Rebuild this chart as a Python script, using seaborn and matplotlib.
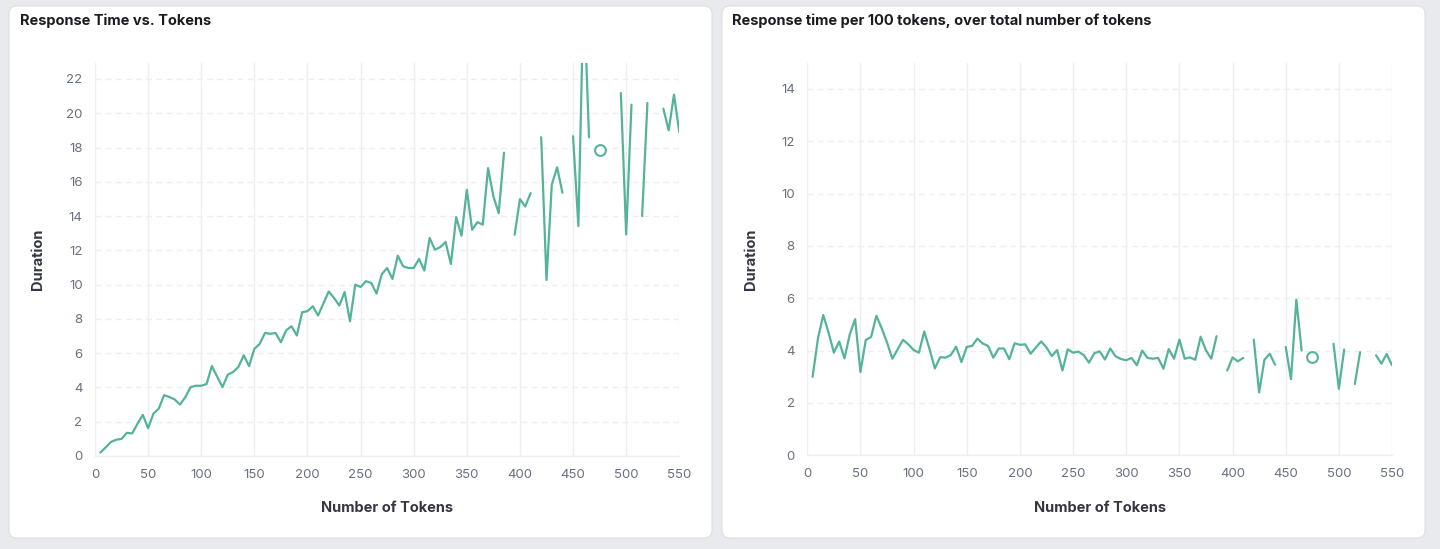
import numpy as np
import pandas as pd
import matplotlib
matplotlib.use("Agg")
import matplotlib.pyplot as plt
import seaborn as sns
from matplotlib.patches import FancyBboxPatch

nan = np.nan

tokens = [5, 10, 15, 20, 25, 30, 35, 40, 45, 50,
          55, 60, 65, 70, 75, 80, 85, 90, 95, 100,
          105, 110, 115, 120, 125, 130, 135, 140, 145, 150,
          155, 160, 165, 170, 175, 180, 185, 190, 195, 200,
          205, 210, 215, 220, 225, 230, 235, 240, 245, 250,
          255, 260, 265, 270, 275, 280, 285, 290, 295, 300,
          305, 310, 315, 320, 325, 330, 335, 340, 345, 350,
          355, 360, 365, 370, 375, 380, 385, 390, 395, 400,
          405, 410, 415, 420, 425, 430, 435, 440, 445, 450,
          455, 460, 465, 470, 475, 480, 485, 490, 495, 500,
          505, 510, 515, 520, 525, 530, 535, 540, 545, 550]

duration = [0.2, 0.5, 0.82, 0.95, 1.0, 1.35, 1.32, 1.88, 2.4, 1.62,
            2.47, 2.76, 3.55, 3.44, 3.3, 3.0, 3.43, 4.02, 4.1, 4.1,
            4.2, 5.25, 4.63, 4.02, 4.75, 4.9, 5.2, 5.88, 5.24, 6.25,
            6.54, 7.18, 7.13, 7.18, 6.64, 7.34, 7.57, 7.03, 8.39, 8.45,
            8.74, 8.2, 8.9, 9.6, 9.22, 8.78, 9.57, 7.86, 10.0, 9.86,
            10.2, 10.1, 9.48, 10.62, 10.97, 10.33, 11.69, 11.07, 10.97, 10.97,
            11.5, 10.82, 12.72, 12.04, 12.19, 12.49, 11.2, 13.94, 12.85, 15.53,
            13.2, 13.65, 13.5, 16.8, 15.15, 14.17, 17.7, nan, 12.91, 14.99,
            14.56, 15.34, nan, 18.6, 10.27, 15.84, 16.85, 15.36, nan, 18.66,
            13.42, 27.3, 18.6, nan, 17.84, nan, nan, nan, 21.18, 12.93,
            20.5, nan, 14.0, 20.6, nan, nan, 20.27, 19.0, 21.09, 18.9]

per_100 = [3.0, 4.46, 5.36, 4.69, 3.92, 4.35, 3.7, 4.63, 5.2, 3.18,
           4.41, 4.52, 5.33, 4.85, 4.31, 3.69, 4.05, 4.41, 4.24, 4.02,
           3.92, 4.73, 4.05, 3.32, 3.75, 3.73, 3.83, 4.15, 3.56, 4.14,
           4.18, 4.46, 4.27, 4.18, 3.73, 4.08, 4.08, 3.67, 4.28, 4.22,
           4.24, 3.88, 4.12, 4.35, 4.12, 3.79, 4.02, 3.24, 4.05, 3.92,
           3.96, 3.83, 3.54, 3.9, 3.97, 3.66, 4.08, 3.78, 3.68, 3.63,
           3.72, 3.44, 4.0, 3.72, 3.69, 3.72, 3.31, 4.06, 3.69, 4.42,
           3.69, 3.74, 3.65, 4.53, 4.01, 3.69, 4.55, nan, 3.24, 3.74,
           3.59, 3.72, nan, 4.42, 2.4, 3.65, 3.88, 3.46, nan, 4.14,
           2.91, 5.94, 4.0, nan, 3.74, nan, nan, nan, 4.26, 2.54,
           4.04, nan, 2.72, 3.94, nan, nan, 3.82, 3.5, 3.87, 3.44]

x_ticks = [0, 50, 100, 150, 200, 250, 300, 350, 400, 450, 500, 550]
y_ticks_left = [0, 2, 4, 6, 8, 10, 12, 14, 16, 18, 20, 22]
y_ticks_right = [0, 2, 4, 6, 8, 10, 12, 14]

titles = ["Response Time vs. Tokens",
          "Response time per 100 tokens, over total number of tokens"]
x_label = "Number of Tokens"
y_label = "Duration"

LINE = "#54B399"
GRID = "#eceef2"
TICK = "#69707d"
LABEL = "#343741"
TITLE = "#1a1c21"

sns.set_theme(style="white")
plt.rcParams["font.family"] = ["Inter", "DejaVu Sans"]

W, H = 1440, 549
fig = plt.figure(figsize=(W / 100, H / 100), dpi=100)
fig.patch.set_facecolor("#e9eaee")

# white panels (display pixel coords)
for (x0, x1) in [(9, 712), (722, 1425)]:
    p = FancyBboxPatch((x0, H - 538), x1 - x0, 532,
                       boxstyle="round,pad=0,rounding_size=8",
                       transform=None, facecolor="white",
                       edgecolor="#dcdfe5", linewidth=0.8, zorder=-10)
    fig.patches.append(p)

df = pd.DataFrame({"tokens": tokens, "duration": duration, "per_100": per_100})


def draw(ax, col, ylim, yticks):
    valid = df[col].notna()
    seg = (valid != valid.shift()).cumsum()
    d = df[valid].assign(seg=seg[valid])
    size = d.groupby("seg")[col].transform("size")
    lines = d[size > 1]
    pts = d[size == 1]
    sns.lineplot(data=lines, x="tokens", y=col, units="seg", estimator=None,
                 color=LINE, linewidth=1.6, ax=ax, legend=False)
    sns.scatterplot(data=pts, x="tokens", y=col, ax=ax, s=60,
                    facecolor="white", edgecolor=LINE, linewidth=1.5,
                    zorder=5, legend=False)
    ax.set_xlim(0, 550)
    ax.set_ylim(*ylim)
    ax.set_xticks(x_ticks)
    ax.set_yticks(yticks)
    ax.grid(axis="x", color=GRID, linewidth=1, linestyle="-")
    ax.grid(axis="y", color=GRID, linewidth=1, linestyle=(0, (4.3, 3.0)))
    ax.set_axisbelow(True)
    for s in ["top", "right", "left"]:
        ax.spines[s].set_visible(False)
    ax.spines["bottom"].set_color(GRID)
    ax.spines["bottom"].set_linewidth(1)
    ax.tick_params(axis="both", length=0, labelsize=9.5, labelcolor=TICK)
    ax.tick_params(axis="x", pad=9)
    ax.tick_params(axis="y", pad=9)
    ax.set_xlabel(x_label, fontsize=10.5, fontweight="bold", color=LABEL)
    ax.set_ylabel(y_label, fontsize=10.5, fontweight="bold", color=LABEL)
    ax.set_facecolor("none")


def add_axes(left_px, right_px, bottom_px, top_px):
    return fig.add_axes([left_px / W, 1 - bottom_px / H,
                         (right_px - left_px) / W, (bottom_px - top_px) / H])


ax1 = add_axes(95, 679.3, 456, 62.7)
draw(ax1, "duration", (0, 22.95), y_ticks_left)
ax2 = add_axes(807.3, 1392, 455.3, 62.7)
draw(ax2, "per_100", (0, 15), y_ticks_right)

for ax, ylab_x in [(ax1, 38), (ax2, 751)]:
    pos = ax.get_position()
    left_px = pos.x0 * W
    width_px = pos.width * W
    height_px = pos.height * H
    bottom_px = (1 - pos.y0) * H
    ax.xaxis.set_label_coords(0.5, -(508 - bottom_px) / height_px)
    ax.xaxis.label.set_va("center")
    ax.yaxis.set_label_coords((ylab_x - left_px) / width_px, 0.5)
    ax.yaxis.label.set_va("center")

fig.text(20 / W, 1 - 20.5 / H, titles[0], fontsize=10.5, fontweight="bold",
         color=TITLE, va="center", ha="left")
fig.text(732 / W, 1 - 20.5 / H, titles[1], fontsize=10.5, fontweight="bold",
         color=TITLE, va="center", ha="left")

fig.savefig("out.png", dpi=100, facecolor=fig.get_facecolor())
